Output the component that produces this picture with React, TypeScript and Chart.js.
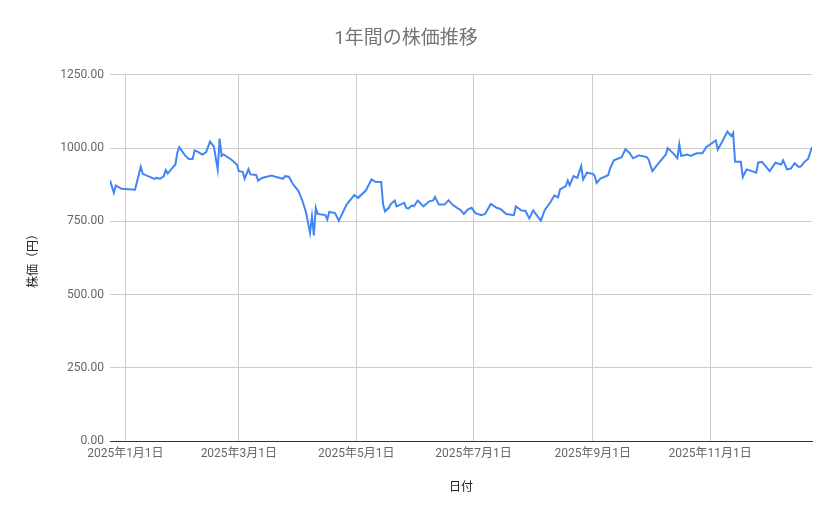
import React, { useEffect, useRef } from 'react';
import { Chart, ChartConfiguration, registerables } from 'chart.js';

Chart.register(...registerables);

// 日付（取引日）
const dates = [
  '2024-12-24', '2024-12-26', '2024-12-27', '2024-12-30', '2025-01-06', '2025-01-09', '2025-01-10',
  '2025-01-14', '2025-01-16', '2025-01-17', '2025-01-19', '2025-01-21', '2025-01-22', '2025-01-23',
  '2025-01-25', '2025-01-27', '2025-01-28', '2025-01-29', '2025-02-01', '2025-02-03', '2025-02-05',
  '2025-02-06', '2025-02-08', '2025-02-10', '2025-02-12', '2025-02-14', '2025-02-16', '2025-02-18',
  '2025-02-19', '2025-02-20', '2025-02-21', '2025-02-25', '2025-02-28', '2025-03-01', '2025-03-03',
  '2025-03-04', '2025-03-06', '2025-03-07', '2025-03-10', '2025-03-11', '2025-03-13', '2025-03-18',
  '2025-03-20', '2025-03-24', '2025-03-25', '2025-03-27', '2025-03-29', '2025-04-01', '2025-04-03',
  '2025-04-05', '2025-04-07', '2025-04-08', '2025-04-09', '2025-04-10', '2025-04-11', '2025-04-15',
  '2025-04-16', '2025-04-17', '2025-04-20', '2025-04-22', '2025-04-26', '2025-04-30', '2025-05-02',
  '2025-05-06', '2025-05-09', '2025-05-11', '2025-05-14', '2025-05-15', '2025-05-16', '2025-05-18',
  '2025-05-19', '2025-05-21', '2025-05-22', '2025-05-24', '2025-05-26', '2025-05-27', '2025-05-28',
  '2025-05-30', '2025-05-31', '2025-06-02', '2025-06-05', '2025-06-08', '2025-06-10', '2025-06-11',
  '2025-06-13', '2025-06-16', '2025-06-18', '2025-06-20', '2025-06-23', '2025-06-24', '2025-06-26',
  '2025-06-28', '2025-06-30', '2025-07-02', '2025-07-05', '2025-07-07', '2025-07-10', '2025-07-13',
  '2025-07-15', '2025-07-18', '2025-07-22', '2025-07-23', '2025-07-26', '2025-07-28', '2025-07-30',
  '2025-08-01', '2025-08-05', '2025-08-07', '2025-08-10', '2025-08-12', '2025-08-14', '2025-08-15',
  '2025-08-18', '2025-08-19', '2025-08-20', '2025-08-22', '2025-08-24', '2025-08-26', '2025-08-27',
  '2025-08-29', '2025-09-01', '2025-09-02', '2025-09-03', '2025-09-05', '2025-09-09', '2025-09-10',
  '2025-09-12', '2025-09-16', '2025-09-18', '2025-09-20', '2025-09-22', '2025-09-25', '2025-09-29',
  '2025-09-30', '2025-10-02', '2025-10-04', '2025-10-09', '2025-10-10', '2025-10-13', '2025-10-15',
  '2025-10-16', '2025-10-17', '2025-10-20', '2025-10-22', '2025-10-25', '2025-10-28', '2025-10-30',
  '2025-11-04', '2025-11-05', '2025-11-07', '2025-11-10', '2025-11-12', '2025-11-13', '2025-11-14',
  '2025-11-17', '2025-11-18', '2025-11-20', '2025-11-25', '2025-11-26', '2025-11-28', '2025-12-02',
  '2025-12-05', '2025-12-08', '2025-12-09', '2025-12-11', '2025-12-13', '2025-12-15', '2025-12-17',
  '2025-12-18', '2025-12-20', '2025-12-22', '2025-12-24'
];

// 株価（円）
const prices = [
  890, 847, 872, 861, 858, 936, 912,
  901, 895, 898, 895, 904, 925, 913,
  929, 944, 984, 1003, 975, 963, 963,
  992, 986, 978, 986, 1022, 1005, 927,
  1032, 973, 978, 961, 944, 921, 919,
  895, 928, 910, 908, 889, 898, 906,
  902, 895, 904, 902, 878, 853, 821,
  778, 710, 767, 702, 796, 775, 771,
  756, 782, 778, 752, 807, 839, 830,
  855, 893, 885, 884, 807, 784, 796,
  809, 821, 801, 807, 813, 796, 793,
  804, 801, 821, 801, 818, 821, 833,
  807, 807, 822, 807, 793, 790, 775,
  790, 796, 778, 771, 775, 809, 796,
  792, 775, 771, 801, 787, 786, 760,
  787, 752, 788, 815, 838, 832, 859,
  870, 889, 873, 904, 898, 938, 893,
  916, 912, 905, 881, 896, 907, 930,
  958, 969, 996, 984, 965, 975, 969,
  961, 921, 938, 978, 1000, 981, 965,
  1013, 973, 978, 973, 982, 982, 1003,
  1026, 995, 1018, 1056, 1041, 1052, 953,
  953, 901, 927, 916, 950, 953, 921,
  950, 944, 958, 927, 930, 948, 936,
  936, 952, 963, 1003
];

const tickDates = ['2025-01-01', '2025-03-01', '2025-05-01', '2025-07-01', '2025-09-01', '2025-11-01'];
const tickLabels = ['2025年1月1日', '2025年3月1日', '2025年5月1日', '2025年7月1日', '2025年9月1日', '2025年11月1日'];

const FONT = "Roboto, 'Noto Sans CJK JP', sans-serif";

const dayOf = (s: string) => {
  const [y, m, d] = s.split('-').map(Number);
  return Math.round((Date.UTC(y, m - 1, d) - Date.UTC(2025, 0, 1)) / 86400000);
};

export default function App() {
  const chartRef = useRef<HTMLCanvasElement>(null);
  const chartInstance = useRef<Chart | null>(null);

  useEffect(() => {
    document.body.style.margin = '0';
    if (!chartRef.current) return;
    if (chartInstance.current) chartInstance.current.destroy();

    const ctx = chartRef.current.getContext('2d');
    if (!ctx) return;

    const tickDays = tickDates.map(dayOf);

    const config: ChartConfiguration<'line'> = {
      type: 'line',
      data: {
        datasets: [{
          label: '株価',
          data: dates.map((d, i) => ({ x: dayOf(d), y: prices[i] })),
          borderColor: '#4285f4',
          borderWidth: 2,
          pointRadius: 0,
          tension: 0,
          fill: false
        }]
      },
      options: {
        responsive: true,
        maintainAspectRatio: false,
        animation: false,
        layout: { padding: { left: 0, right: 27, top: 0, bottom: 0 } },
        plugins: {
          legend: { display: false },
          tooltip: { enabled: false },
          title: {
            display: true,
            text: '1年間の株価推移',
            color: '#757575',
            font: { family: FONT, size: 19, weight: 'normal' },
            padding: { top: 28, bottom: 24 }
          }
        },
        scales: {
          x: {
            type: 'linear',
            min: dayOf(dates[0]),
            max: dayOf(dates[dates.length - 1]),
            afterFit: (scale) => { scale.height = 78; },
            afterBuildTicks: (scale) => {
              scale.ticks = tickDays.map(v => ({ value: v }));
            },
            grid: { color: '#cccccc', drawTicks: false },
            border: { display: true, color: '#333333', width: 1 },
            ticks: {
              color: '#666666',
              font: { family: FONT, size: 12 },
              padding: 6,
              maxRotation: 0,
              autoSkip: false,
              callback: (value, index) => tickLabels[index]
            },
            title: {
              display: true,
              text: '日付',
              color: '#222222',
              font: { family: FONT, size: 12 },
              padding: { top: 0, bottom: 24 }
            }
          },
          y: {
            min: 0,
            max: 1250,
            afterFit: (scale) => { scale.width = 110; },
            grid: { color: '#cccccc', drawTicks: false },
            border: { display: false },
            ticks: {
              stepSize: 250,
              color: '#666666',
              font: { family: FONT, size: 12 },
              padding: 6,
              callback: (value) => Number(value).toFixed(2)
            },
            title: {
              display: true,
              text: '株価（円）',
              color: '#222222',
              font: { family: FONT, size: 12 },
              padding: { top: 27, bottom: 0 }
            }
          }
        }
      }
    };

    chartInstance.current = new Chart(ctx, config);

    return () => {
      if (chartInstance.current) {
        chartInstance.current.destroy();
        chartInstance.current = null;
      }
    };
  }, []);

  return (
    <div style={{ width: '839px', height: '519px' }}>
      <canvas ref={chartRef}></canvas>
    </div>
  );
}
